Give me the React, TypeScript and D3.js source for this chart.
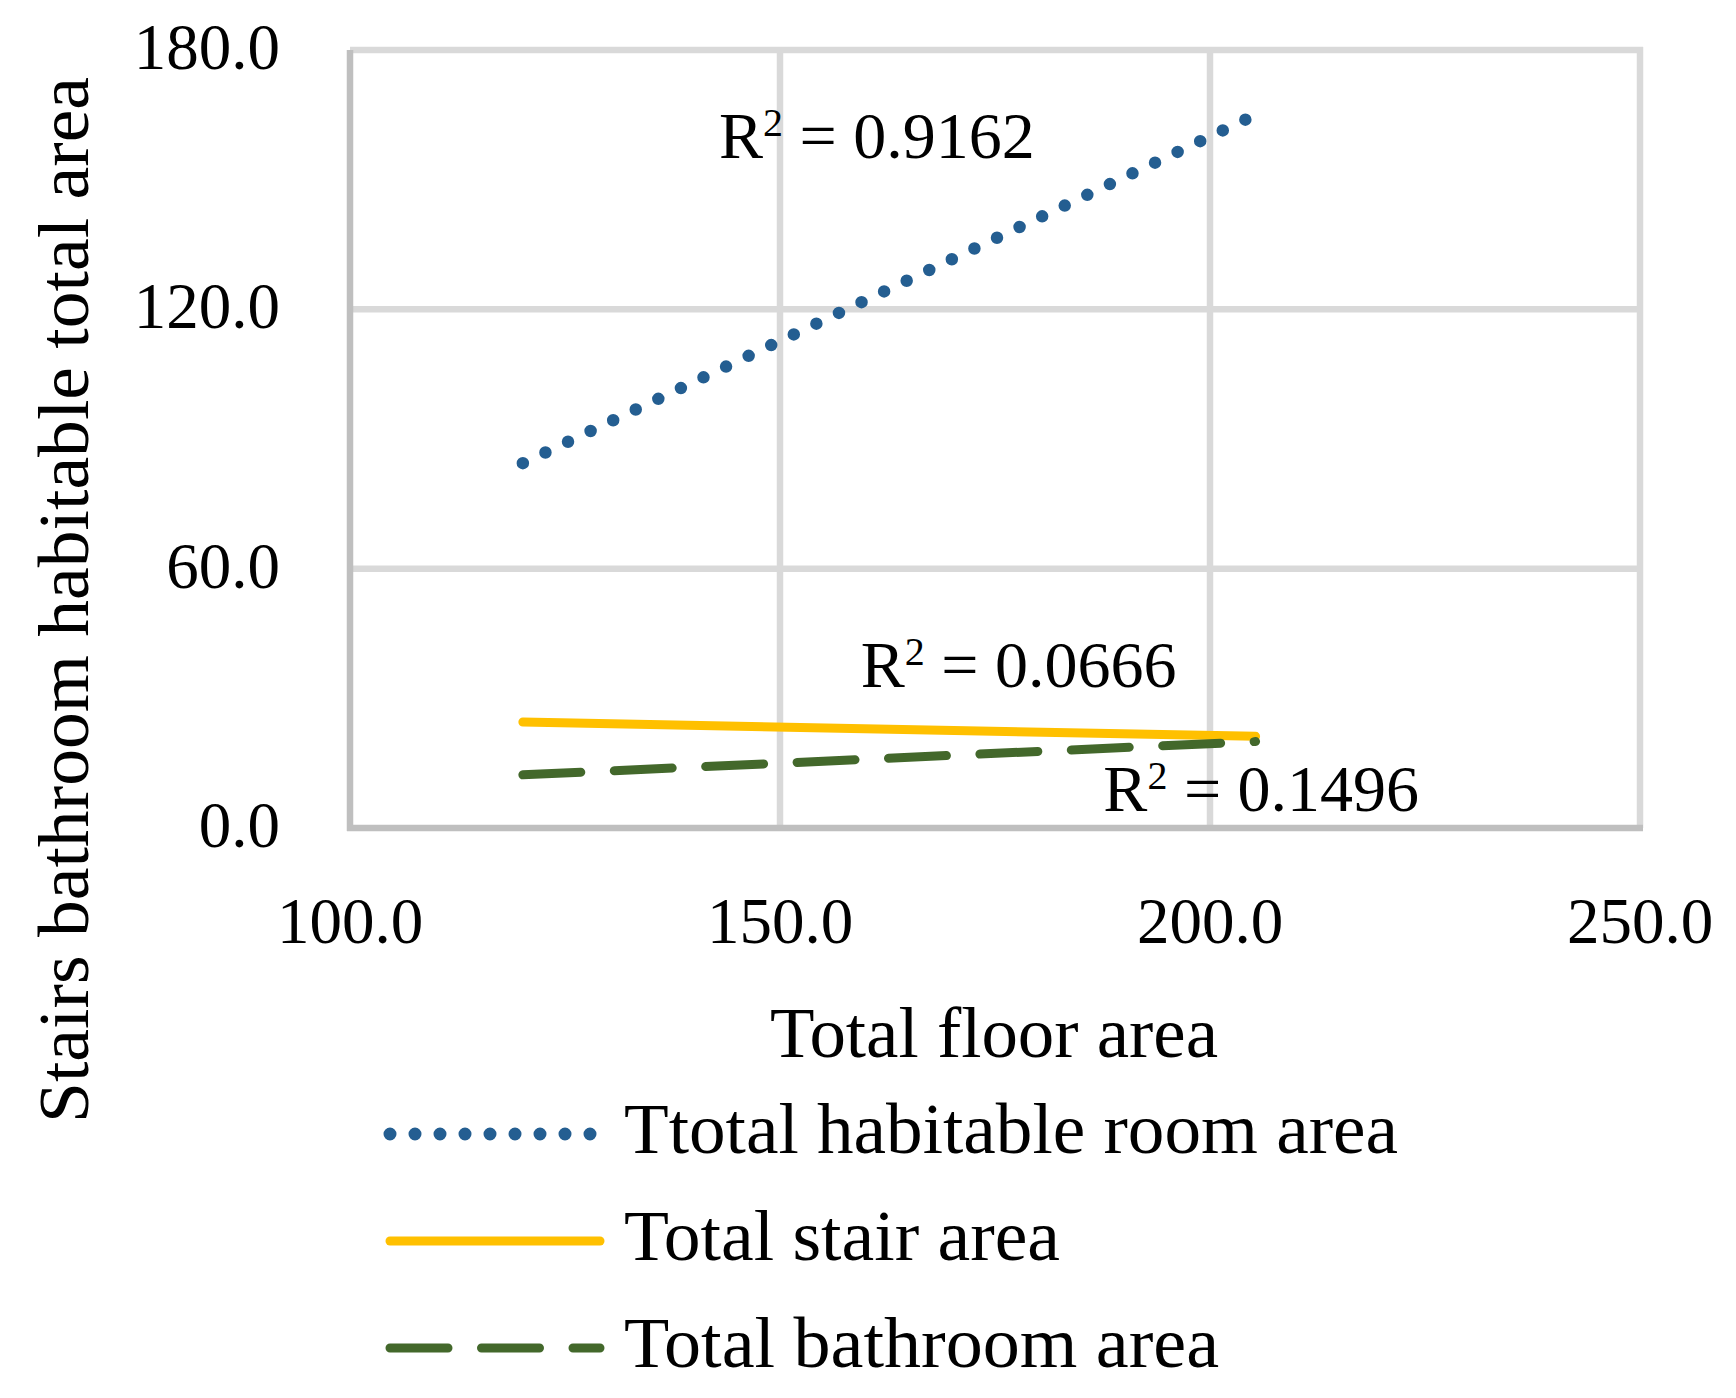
import * as d3 from "d3";

// trendline end points (total floor area vs. component areas)
const floorRange = [120.1, 205.3];
const habitable = [84.4, 165.0];
const stair = [24.5, 21.2];
const bathroom = [12.3, 20.0];

const xTicks = [100, 150, 200, 250];
const yTicks = [0, 60, 120, 180];

const seriesNames = ["Ttotal habitable room area", "Total stair area", "Total bathroom area"];
const r2Values = ["0.9162", "0.0666", "0.1496"];
// label anchors in data units (left edge, baseline)
const r2AnchorX = [142.9, 159.4, 187.6];
const r2AnchorY = [155.0, 32.6, 3.9];

const legendWidths = [774, 436, 595];

const styles = [
  { color: "#245e91", width: 12.5, dash: "0 25" },
  { color: "#ffc000", width: 9, dash: undefined },
  { color: "#43682b", width: 9, dash: "58 33.5" },
];

const font = "'Liberation Serif', 'Times New Roman', serif";

export default function App() {
  const width = 1736;
  const height = 1398;
  const plot = { left: 350, right: 1640, top: 50, bottom: 828 };

  const x = d3.scaleLinear([100, 250], [plot.left, plot.right]);
  const y = d3.scaleLinear([0, 180], [plot.bottom, plot.top]);
  const fmt = d3.format(".1f");

  const series = [habitable, stair, bathroom].map((vals) =>
    floorRange.map((fx, i) => [fx, vals[i]] as [number, number])
  );
  const line = d3
    .line<[number, number]>()
    .x((d) => x(d[0]))
    .y((d) => y(d[1]));

  const legendX = d3.scaleLinear([0, 1], [390, 600]);
  const legendY = d3.scalePoint(seriesNames, [1134, 1348]);

  return (
    <svg
      width={width}
      height={height}
      viewBox={`0 0 ${width} ${height}`}
      style={{ position: "absolute", left: 0, top: 0, background: "#fff" }}
      fontFamily={font}
    >
      <rect width={width} height={height} fill="#fff" />
      {/* grid */}
      {yTicks
        .filter((t) => t !== 0)
        .map((t) => (
          <line
            key={`gy${t}`}
            x1={plot.left}
            x2={plot.right + 3}
            y1={y(t)}
            y2={y(t)}
            stroke="#d9d9d9"
            strokeWidth={6.5}
          />
        ))}
      {xTicks
        .filter((t) => t !== 100)
        .map((t) => (
          <line
            key={`gx${t}`}
            x1={x(t)}
            x2={x(t)}
            y1={plot.top - 3}
            y2={plot.bottom}
            stroke="#d9d9d9"
            strokeWidth={6.5}
          />
        ))}
      {/* axes */}
      <line
        x1={plot.left}
        x2={plot.left}
        y1={plot.top}
        y2={plot.bottom + 3}
        stroke="#bfbfbf"
        strokeWidth={6.5}
      />
      <line
        x1={plot.left - 3}
        x2={plot.right + 3}
        y1={plot.bottom}
        y2={plot.bottom}
        stroke="#bfbfbf"
        strokeWidth={6.5}
      />

      {/* tick labels */}
      {yTicks.map((t) => (
        <text
          key={`ly${t}`}
          x={280}
          y={y(t) + 19}
          textAnchor="end"
          fontSize={65}
          fill="#000"
        >
          {fmt(t)}
        </text>
      ))}
      {xTicks.map((t) => (
        <text
          key={`lx${t}`}
          x={x(t)}
          y={943}
          textAnchor="middle"
          fontSize={65}
          fill="#000"
        >
          {fmt(t)}
        </text>
      ))}

      {/* trendlines */}
      {series.map((pts, i) => (
        <path
          key={`s${i}`}
          d={line(pts) ?? ""}
          fill="none"
          stroke={styles[i].color}
          strokeWidth={styles[i].width}
          strokeDasharray={styles[i].dash}
          strokeLinecap="round"
        />
      ))}

      {/* R² labels */}
      {r2Values.map((v, i) => (
        <text
          key={`r${i}`}
          x={x(r2AnchorX[i])}
          y={y(r2AnchorY[i])}
          fontSize={66}
          fill="#000"
        >
          R
          <tspan fontSize={40} dy={-22}>
            2
          </tspan>
          <tspan dy={22}>{` = ${v}`}</tspan>
        </text>
      ))}

      {/* axis titles */}
      <text
        x={994}
        y={1057}
        textAnchor="middle"
        fontSize={71}
        textLength={448}
        lengthAdjust="spacingAndGlyphs"
        fill="#000"
      >
        Total floor area
      </text>
      <text
        transform="translate(88,600) rotate(-90)"
        textAnchor="middle"
        fontSize={71}
        textLength={1046}
        lengthAdjust="spacingAndGlyphs"
        fill="#000"
      >
        Stairs bathroom habitable total area
      </text>

      {/* legend */}
      {seriesNames.map((name, i) => {
        const ly = legendY(name) ?? 0;
        return (
          <g key={`lg${i}`}>
            <line
              x1={legendX(0)}
              x2={legendX(1)}
              y1={ly}
              y2={ly}
              stroke={styles[i].color}
              strokeWidth={i === 0 ? 13 : styles[i].width}
              strokeDasharray={styles[i].dash}
              strokeLinecap="round"
            />
            <text
              x={624}
              y={ly + 19}
              fontSize={71}
              textLength={legendWidths[i]}
              lengthAdjust="spacingAndGlyphs"
              fill="#000"
            >
              {name}
            </text>
          </g>
        );
      })}
    </svg>
  );
}
